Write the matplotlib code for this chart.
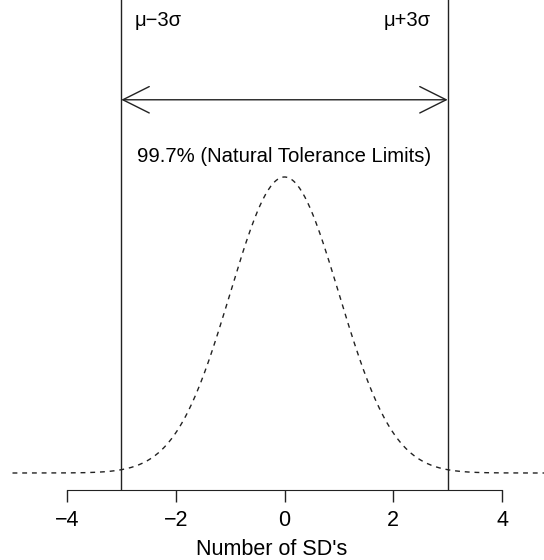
import numpy as np
import matplotlib.pyplot as plt

plt.rcParams['font.family'] = ['Liberation Sans', 'DejaVu Sans']

# standard normal density on a grid of SDs
sd_grid = np.linspace(-5.0, 5.0, 401)
density = np.exp(-sd_grid ** 2 / 2) / np.sqrt(2 * np.pi)

limits = [-3, 3]
limit_labels = ["\u03bc\u22123\u03c3", "\u03bc+3\u03c3"]
ticks = [-4, -2, 0, 2, 4]
tick_labels = ["\u22124", "\u22122", "0", "2", "4"]
arrow_y = 0.503
band_text = "99.7% (Natural Tolerance Limits)"

fig = plt.figure(figsize=(5.44, 5.60), dpi=100)
ax = fig.add_axes([0.0, 70 / 560, 1.0, 490 / 560])

ax.plot(sd_grid, density, color="#222222", lw=1.0, linestyle=(0, (3.5, 3.5)))

for x in limits:
    ax.axvline(x, color="#222222", lw=1.0)

ax.annotate("", xy=(limits[0], arrow_y), xytext=(limits[1], arrow_y),
            arrowprops=dict(arrowstyle="<->, head_length=1.9, head_width=0.95",
                            color="#222222", lw=1.0, shrinkA=0, shrinkB=0))

ax.text(-2.33, 0.6105, limit_labels[0], ha="center", va="center", fontsize=14.5)
ax.text(2.26, 0.6105, limit_labels[1], ha="center", va="center", fontsize=14.5)
ax.text(0, 0.426, band_text, ha="center", va="center", fontsize=14.6)

ax.set_xlim(-284.5 / 54.4, (544 - 284.5) / 54.4)
ax.set_ylim(-17 / 742, 473 / 742)

for side in ["top", "left", "right"]:
    ax.spines[side].set_visible(False)
ax.spines["bottom"].set_bounds(-4, 4)
ax.spines["bottom"].set_color("#222222")
ax.set_yticks([])
ax.set_xticks(ticks)
ax.set_xticklabels(tick_labels, fontsize=15.5)
ax.tick_params(axis="x", length=8.5, width=1.0, color="#222222", pad=6)
ax.set_xlabel("Number of SD's", fontsize=15.5, labelpad=6)

fig.savefig("out.png", dpi=100)
